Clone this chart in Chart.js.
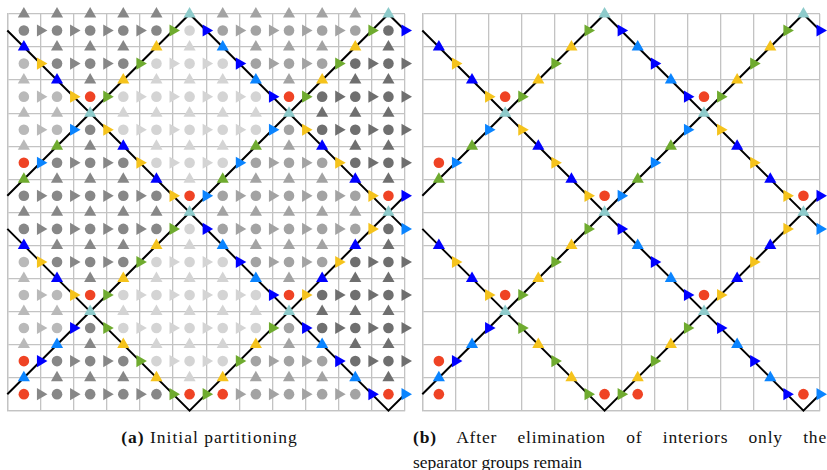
<!DOCTYPE html>
<html>
<head>
<meta charset="utf-8">
<script src="https://cdn.jsdelivr.net/npm/chart.js@4.4.1/dist/chart.umd.min.js"></script>
<style>
  html, body { margin:0; padding:0; background:#fff; }
  #wrap { position:relative; width:827px; height:470px; overflow:hidden; }
  canvas { position:absolute; top:0; }
  #chartA { left:0; }
  #chartB { left:413px; }
  .cap { position:absolute; font-family:"Liberation Serif", serif; font-size:17.5px; line-height:20px; color:#111; }
</style>
</head>
<body>
<div id="wrap">
  <canvas id="chartA" width="413" height="420"></canvas>
  <canvas id="chartB" width="414" height="420"></canvas>
  <div class="cap" style="left:0;width:419px;top:427px;text-align:center;white-space:nowrap;letter-spacing:1px"><b>(a)</b> Initial partitioning</div>
  <div class="cap" style="left:413px;width:414px;top:427px;text-align:justify;text-align-last:justify;letter-spacing:0.8px"><b>(b)</b> After elimination of interiors only the</div>
  <div class="cap" style="left:413px;top:452px;white-space:nowrap">separator groups remain</div>
</div>
<script>
// one letter per marker
// k,m,l,w,d = grey shades of the interiors, B blue, A azure, Y yellow, G green, C cyan (crossing), R red
// up-triangles on the horizontal grid lines: row j -> y = j, entry i -> x = i + 0.5
const upRows = [
  "kkkkkCmmmmmC",
  "BkkkYwAmmmYd",
  "lBkYwwwAmYdd",
  "llCwwwwwCddd",
  "lGkBwwwGmBdd",
  "GkkkBwGmmmBd",
  "kkkkkCmmmmmC",
  "BkkkYwAmmmBd",
  "lBkYwwwAmBdd",
  "llCwwwwwCddd",
  "lAkYwwwYmAdd",
  "AkkkYwYmmmAd",
];
// cell rows: pairs of (circle at cell centre, right-triangle on east face)
const cellRows = [
  "kk kk kk kk kG wB mm mm mm mm mG dB",
  "lY kk kk kG ww ww wB mm mm mG dd dd",
  "ll lY RG ww ww ww ww wB RG dd dd dd",
  "ll lA kY ww ww ww ww wA mY dd dd dd",
  "RA kk kk kY ww ww wA mm mm mY dd dd",
  "kk kk kk kk kY RA mm mm mm mm mY RB",
  "kk kk kk kk kG wB mm mm mm mm mY dA",
  "lY kk kk kG ww ww wB mm mm mY dd dd",
  "ll lY RG ww ww ww ww wB RY dd dd dd",
  "ll lB kG ww ww ww ww wG mB dd dd dd",
  "RB kk kk kG ww ww wG mm mm mB dd dd",
  "Rk kk kk kk kG RG Rm mm mm mm mB RA",
];
// separator paths (black lines), in grid units
const separators = [
  [[0,0.5],[11.5,12],[12,11.5]],
  [[0,5.5],[5.5,0],[12,6.5]],
  [[0,6.5],[5.5,12],[12,5.5]],
  [[0,11.5],[11.5,0],[12,0.5]],
];

const palette = {
  k:'#878787', m:'#a3a3a3', l:'#b9b9b9', w:'#d4d4d4', d:'#6f6f6f',
  B:'#0000ff', A:'#0a84ff', Y:'#f5c31c', G:'#6fab2f', C:'#8ecbcb', R:'#ef4324'
};
const greys = "kmlwd";

function markers(withGrey){
  const pts = [], style = [], rot = [], col = [], rad = [];
  const add = (x, y, ch, shape) => {
    if(!withGrey && greys.includes(ch)) return;
    pts.push({x, y});
    col.push(palette[ch]);
    if(shape === "dot"){ style.push("circle"); rot.push(0); rad.push(5.3); }
    else { style.push("triangle"); rot.push(shape === "right" ? 90 : 0); rad.push(7); }
  };
  upRows.forEach((row, j) => [...row].forEach((ch, i) => add(i + 0.5, j, ch, "up")));
  cellRows.forEach((row, j) => {
    [...row.replace(/ /g, "")].forEach((ch, k) => {
      const i = k >> 1;
      if(k % 2 === 0) add(i + 0.5, j + 0.5, ch, "dot");
      else add(i + 1, j + 0.5, ch, "right");
    });
  });
  return {pts, style, rot, col, rad};
}

function axis(reverse){
  return {
    type:"linear", min:0, max:12, reverse,
    ticks:{ stepSize:1, display:false },
    grid:{ color:"#c3c3c3", lineWidth:1.3, drawTicks:false },
    border:{ color:"#c3c3c3", width:1.3 }
  };
}

function makeChart(id, pad, withGrey){
  const m = markers(withGrey);
  const lines = separators.map(path => ({
    data: path.map(([x, y]) => ({x, y})),
    showLine:true, borderColor:"#000", borderWidth:2, pointRadius:0, clip:false, order:1
  }));
  new Chart(document.getElementById(id), {
    type:"scatter",
    data:{ datasets:[
      { data:m.pts, pointStyle:m.style, pointRotation:m.rot, pointBackgroundColor:m.col,
        pointRadius:m.rad, pointBorderWidth:0, clip:false, order:0 },
      ...lines
    ]},
    options:{
      responsive:false, animation:false, devicePixelRatio:1, events:[],
      layout:{ padding:pad },
      plugins:{ legend:{display:false}, tooltip:{enabled:false} },
      scales:{ x:axis(false), y:axis(true) }
    }
  });
}

makeChart("chartA", {left:7.3, top:14, right:8, bottom:9.3}, true);
makeChart("chartB", {left:9.3, top:14, right:7, bottom:9.3}, false);
</script>
</body>
</html>
